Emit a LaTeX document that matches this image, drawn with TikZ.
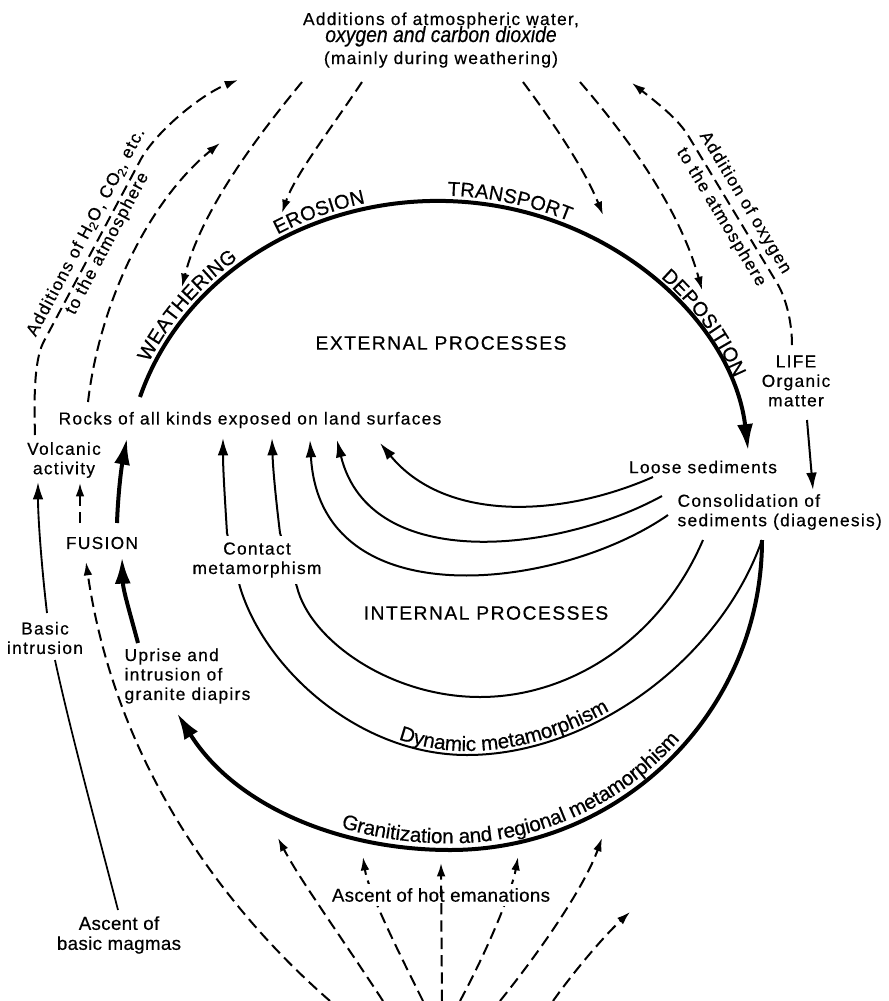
\documentclass[tikz,border=0pt]{standalone}
\usepackage{fontspec}
\setmainfont{Liberation Sans}[FakeBold=0.5]
\newfontfamily\lsfont{Liberation Sans}[LetterSpace=7.5,FakeBold=0.5]
\newfontfamily\lsbfont{Liberation Sans}[LetterSpace=2,FakeBold=0.5]
\newfontfamily\plainsans{Liberation Sans}[FakeBold=0.5]
\newfontfamily\oxyfont{Liberation Sans}[FakeBold=0.5,FakeStretch=0.88]
\newcommand\labfont{\lsfont\fontsize{13}{14.6}\selectfont}
\newcommand\capfnt{\plainsans\fontsize{15}{16}\selectfont}
\newcommand\btmfnt{\plainsans\fontsize{15.5}{16}\selectfont}
\usetikzlibrary{arrows.meta,decorations.text}
\pgfdeclarelayer{bg}
\pgfsetlayers{bg,main}
\begin{document}
\begin{tikzpicture}[x=0.75pt,y=-0.75pt,
  lab/.style={font=\labfont, align=center, inner sep=1pt},
  caps/.style={font=\lsfont\fontsize{14.5}{16}\selectfont, inner sep=1pt},
  low/.style={font=\lsbfont\fontsize{14}{15}\selectfont, align=center, inner sep=1pt},
  thickln/.style={line width=3pt},
  thinln/.style={line width=1.5pt},
  dashln/.style={line width=1.5pt, dash pattern=on 8.5pt off 4.5pt},
  bigtip/.style={-{Latex[length=20pt,width=12pt]}},
  midtip/.style={-{Latex[length=13pt,width=8pt]}},
  dtip/.style={-{Latex[length=10pt,width=6.5pt]}},
  mainarc/.style={x radius=312, y radius=279, start angle=197.3, end angle=354},
]
\useasboundingbox (0,0) rectangle (889,1001);

% ---------------- text nodes ----------------
\node[lab, anchor=base] (atmA) at (441,25) {Additions of atmospheric water,};
\node[font={\oxyfont\itshape\fontsize{16.5}{17}\selectfont}, anchor=base, inner sep=1pt] (atmB) at (441,42) {oxygen and carbon dioxide};
\node[lab, anchor=base] (atmC) at (441,64) {(mainly during weathering)};
\node[caps] (ext) at (441,343) {EXTERNAL PROCESSES};
\node[caps] (int) at (486,613) {INTERNAL PROCESSES};
\node[lab] (rocks) at (250,420) {Rocks of all kinds exposed on land surfaces};
\node[lab] (volc) at (64,460) {Volcanic\\activity};
\node[lab] (fusion) at (102,543) {FUSION};
\node[lab, fill=white, inner sep=5pt] (contact) at (257,560) {Contact\\metamorphism};
\node[lab] (basic) at (45,638) {Basic\\intrusion};
\node[lab, align=left, anchor=west] (uprise) at (123,676) {Uprise and\\intrusion of\\granite diapirs};
\node[lab] (loose) at (703,467) {Loose sediments};
\node[lab, align=left, anchor=west] (cons) at (676,512) {Consolidation of\\sediments (diagenesis)};
\node[lab] (life) at (796,381) {LIFE\\Organic\\matter};
\node[low] (magmas) at (119,935) {Ascent of\\basic magmas};
\node[low, fill=white, inner sep=3pt] (hot) at (441,895) {Ascent of hot emanations};
\node[lab, rotate=62, font={\lsfont\fontsize{13}{18}\selectfont}] (addH) at (97,238)
  {Additions of H\textsubscript{2}O, CO\textsubscript{2}, etc.\\to the atmosphere};
\node[lab, rotate=-59, font={\lsfont\fontsize{13}{21}\selectfont}] (addO) at (733,210)
  {Addition of oxygen\\to the atmosphere};

% ---------------- connectors ----------------
\begin{pgfonlayer}{bg}
\coordinate (mainS) at (140,397);
\coordinate (aS) at (653,477); \coordinate (aE) at (380,443);
\coordinate (bS) at (662,496); \coordinate (bE) at (337,440);
\coordinate (cS) at (668,515); \coordinate (cE) at (310,440);
\coordinate (dS) at (703,540); \coordinate (dE) at (272,438);
\coordinate (consR) at (762,540); \coordinate (eE) at (223,438);
\coordinate (fE) at (177,713);

% main external cycle (elliptic arc ending at the loose sediments)
\draw[thickln, bigtip] (mainS) arc[mainarc];

% internal arcs back to the rocks
\draw[thinln, midtip] (aS) .. controls (560,518) and (445,522) .. (aE);
\draw[thinln, midtip] (bS) .. controls (560,552) and (370,575) .. (bE);
\draw[thinln, midtip] (cS) .. controls (560,590) and (320,620) .. (cE);
\draw[thinln, midtip] (dS) .. controls (660,640) and (570,697) .. (480,697)
   .. controls (390,697) and (310,640) .. (297,587) -- (280,533)
   .. controls (276,500) and (273,470) .. (dE);
\draw[thinln, midtip] (consR) .. controls (720,660) and (590,755) .. (467,755)
   .. controls (360,755) and (265,670) .. (240,587) -- (227,533)
   .. controls (225,500) and (223,470) .. (eE);
\draw[thickln, bigtip] (consR) .. controls (762,711) and (622,850) .. (450,850)
   .. controls (340,850) and (235,806) .. (fE);

% left column
\draw[thickln, bigtip] (117,523) .. controls (118,495) and (121,470) .. (127,438);
\draw[thickln, bigtip] (138,643) .. controls (130,613) and (123,590) .. (122,557);
\draw[dashln, dtip] (80,523) -- (80,483);
\draw[line width=1.4pt, midtip] (47,613) .. controls (42,570) and (38,520) .. (38,482);
\draw[line width=1.3pt] (118,910) .. controls (100,840) and (70,730) .. (55,660);
\draw[dashln, dtip] (330,1001) .. controls (220,905) and (115,760) .. (86,562);

% ascent of hot emanations
\draw[dashln, dtip] (383,1001) .. controls (340,935) and (300,880) .. (278,838);
\draw[dashln, dtip] (423,1001) .. controls (395,945) and (368,890) .. (363,857);
\draw[dashln, dtip] (460,1001) .. controls (490,945) and (512,890) .. (518,857);
\draw[dashln, dtip] (500,1001) .. controls (545,945) and (585,885) .. (602,838);
\draw[dashln, dtip] (553,1001) .. controls (575,970) and (605,935) .. (630,912);

% atmosphere exchanges
\draw[dashln, dtip] (302,82) .. controls (250,145) and (200,215) .. (182,287);
\draw[dashln, dtip] (362,82) .. controls (330,130) and (295,175) .. (282,213);
\draw[dashln, dtip] (523,82) .. controls (555,125) and (585,170) .. (603,215);
\draw[dashln, dtip] (580,82) .. controls (630,140) and (680,210) .. (702,290);
\draw[dashln, dtip] (35,435) .. controls (34,400) and (34,362) .. (43,343)
   -- (141,159) .. controls (156,132) and (200,95) .. (238,80);
\draw[dashln, dtip] (88,402) .. controls (100,300) and (150,200) .. (220,143);
\draw[dashln, dtip] (792,345) .. controls (792,320) and (785,296) .. (777,283)
   -- (689,137) .. controls (679,120) and (660,105) .. (632,83);
\draw[thinln, midtip] (807,420) -- (813,490);
\end{pgfonlayer}

% central vertical emanation, drawn over its label
\draw[dashln, dtip] (442,1001) -- (441,863);

% ---------------- labels along the arcs ----------------
\path[decorate, decoration={text along path, text={|\capfnt|WEATHERING}, text align={left, left indent=26pt}, raise=4pt}]
  (mainS) arc[mainarc];
\path[decorate, decoration={text along path, text={|\capfnt|EROSION}, text align={left, left indent=162pt}, raise=4pt}]
  (mainS) arc[mainarc];
\path[decorate, decoration={text along path, text={|\capfnt|TRANSPORT}, text align={left, left indent=292pt}, raise=4pt}]
  (mainS) arc[mainarc];
\path[decorate, decoration={text along path, text={|\capfnt|DEPOSITION}, text align={left, left indent=464pt}, raise=4pt}]
  (mainS) arc[mainarc];
\path[decorate, decoration={text along path, text={|\btmfnt|Dynamic metamorphism}, text align={left, left indent=172pt}, raise=3pt}]
  (240,587) .. controls (265,670) and (360,755) .. (467,755) .. controls (590,755) and (720,660) .. (consR);
\path[decorate, decoration={text along path, text={|\btmfnt|Granitization and regional metamorphism}, text align={left, left indent=155pt}, raise=5pt}]
  (fE) .. controls (235,806) and (340,850) .. (450,850) .. controls (622,850) and (762,711) .. (consR);
\end{tikzpicture}
\end{document}
